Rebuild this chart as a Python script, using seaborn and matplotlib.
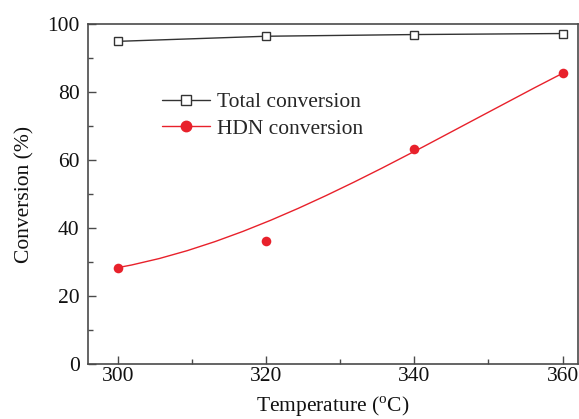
import matplotlib
matplotlib.use("Agg")
import matplotlib.pyplot as plt
from matplotlib.path import Path
from matplotlib.patches import PathPatch
from matplotlib.lines import Line2D
from matplotlib.ticker import MultipleLocator
import seaborn as sns
import pandas as pd

# ---- data ----
temperature = [300, 320, 340, 360]
total_conversion = [94.9, 96.4, 96.9, 97.2]
hdn_conversion = [28.4, 36.3, 63.2, 85.5]
series_labels = ["Total conversion", "HDN conversion"]
x_ticks = [300, 320, 340, 360]
y_ticks = [0, 20, 40, 60, 80, 100]

RED = "#e8212b"
GRAY = "#333333"
SPINE = "#4a4a4a"

sns.set_theme(style="ticks")
plt.rcParams["font.family"] = ["Liberation Serif", "DejaVu Serif"]
plt.rcParams["mathtext.fontset"] = "custom"
plt.rcParams["mathtext.rm"] = "Liberation Serif"

fig = plt.figure(figsize=(5.79, 4.19), dpi=100)
ax = fig.add_axes([88 / 579, 1 - 364.3 / 419, (577.7 - 88) / 579, (364.3 - 24) / 419])

df_total = pd.DataFrame({"T": temperature, "C": total_conversion})
df_hdn = pd.DataFrame({"T": temperature, "C": hdn_conversion})

sns.lineplot(data=df_total, x="T", y="C", ax=ax, color=GRAY, lw=1.0,
             marker="s", markersize=5.5, markerfacecolor="white",
             markeredgecolor=GRAY, markeredgewidth=1.0, zorder=3)

# smooth B-spline (cubic Bezier) connection through the HDN data as control points
verts = list(zip(temperature, hdn_conversion))
codes = [Path.MOVETO, Path.CURVE4, Path.CURVE4, Path.CURVE4]
ax.add_patch(PathPatch(Path(verts, codes), facecolor="none", edgecolor=RED, lw=1.0, zorder=2))

sns.scatterplot(data=df_hdn, x="T", y="C", ax=ax, color=RED, s=48,
                edgecolor=RED, linewidth=0, zorder=4)

ax.set_xlim(296, 362.05)
ax.set_ylim(0, 100)
ax.set_xticks(x_ticks)
ax.set_yticks(y_ticks)
ax.xaxis.set_minor_locator(MultipleLocator(10))
ax.yaxis.set_minor_locator(MultipleLocator(10))
ax.tick_params(axis="both", which="major", direction="in", length=6, width=1.0,
               color=SPINE, labelsize=15.5, labelcolor="#111111")
ax.tick_params(axis="both", which="minor", direction="in", length=3.3, width=1.0, color=SPINE)
ax.tick_params(axis="x", which="major", pad=2)
ax.tick_params(axis="y", which="major", pad=6)
for s in ax.spines.values():
    s.set_color(SPINE)
    s.set_linewidth(1.2)

ax.set_xlabel("Temperature ($^{\\mathrm{o}}$C)", fontsize=15.5, color="#111111", labelpad=6)
ax.set_ylabel("Conversion (%)", fontsize=15.5, color="#111111", labelpad=9)

handles = [
    Line2D([], [], color=GRAY, lw=1.0, marker="s", markersize=7, markerfacecolor="white",
           markeredgecolor=GRAY, markeredgewidth=1.0),
    Line2D([], [], color=RED, lw=1.0, marker="o", markersize=7.5, markerfacecolor=RED,
           markeredgecolor=RED),
]
ax.legend(handles, series_labels, loc="center left", bbox_to_anchor=(0.1505, 0.731),
          frameon=False, fontsize=15.5, handlelength=2.25, handletextpad=0.3,
          labelspacing=0.3, borderpad=0, borderaxespad=0)

fig.savefig("out.png", dpi=100)
